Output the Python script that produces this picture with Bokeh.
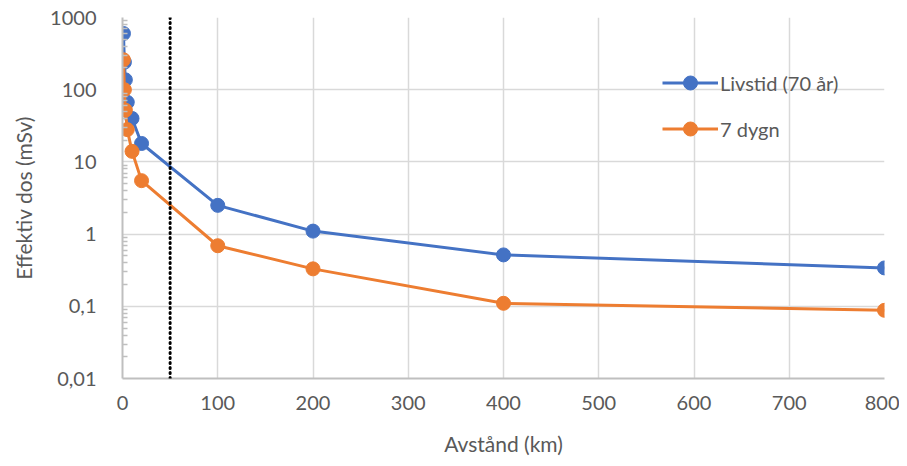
from bokeh.plotting import figure
from bokeh.models import FixedTicker, Span, Legend, LegendItem, ColumnDataSource
from bokeh.embed import file_html
from bokeh.resources import INLINE

distance_km = [1, 2, 3, 5, 10, 20, 100, 200, 400, 800]
dose_lifetime = [600, 240, 137, 67, 40, 18, 2.5, 1.1, 0.515, 0.34]
dose_7days = [260, 100, 52, 28, 14, 5.5, 0.69, 0.33, 0.11, 0.088]
series_names = ["Livstid (70 år)", "7 dygn"]
series_colors = ["#4472C4", "#ED7D31"]
y_ticks = [0.01, 0.1, 1, 10, 100, 1000]
y_tick_labels = ["0,01", "0,1", "1", "10", "100", "1000"]
x_ticks = [0, 100, 200, 300, 400, 500, 600, 700, 800]
marker_km = 50

FONT = "Lato"
TXT = "#595959"

p = figure(width=899, height=458, output_backend="svg", toolbar_location=None,
           y_axis_type="log", x_range=(0, 800), y_range=(0.01, 1000),
           min_border_left=122, min_border_right=15, min_border_top=17, min_border_bottom=78)
p.outline_line_color = None
p.background_fill_color = "white"

minor = []
for d in [0.01, 0.1, 1, 10, 100]:
    for k in range(2, 10):
        minor.append(d * k)
p.yaxis.ticker = FixedTicker(ticks=y_ticks, minor_ticks=minor)
p.yaxis.major_label_overrides = {t: l for t, l in zip(y_ticks, y_tick_labels)}
p.xaxis.ticker = FixedTicker(ticks=x_ticks)

for ax in (p.xaxis, p.yaxis):
    ax.axis_line_color = "#BFBFBF"
    ax.axis_line_width = 2
    ax.major_tick_line_color = None
    ax.major_label_text_color = TXT
    ax.major_label_text_font = FONT
    ax.major_label_text_font_size = "20px"
    ax.axis_label_text_color = TXT
    ax.axis_label_text_font = FONT
    ax.axis_label_text_font_size = "21px"
    ax.axis_label_text_font_style = "normal"
p.yaxis.minor_tick_in = 5
p.yaxis.minor_tick_out = 0
p.yaxis.minor_tick_line_color = "#BFBFBF"
p.yaxis.minor_tick_line_width = 1.5
p.xaxis.minor_tick_line_color = None
p.xaxis.major_label_standoff = 11
p.yaxis.major_label_standoff = 20
p.xaxis.axis_label = "Avstånd (km)"
p.yaxis.axis_label = "Effektiv dos (mSv)"
p.xaxis.axis_label_standoff = 18
p.yaxis.axis_label_standoff = 11

p.xgrid.grid_line_color = "#D9D9D9"
p.ygrid.grid_line_color = "#D9D9D9"
p.xgrid.grid_line_width = 1.5
p.ygrid.grid_line_width = 1.5

p.add_layout(Span(location=marker_km, dimension="height", line_color="black",
                  line_width=3, line_dash="1 4", line_cap="round"))

items = []
for name, vals, col in zip(series_names, [dose_lifetime, dose_7days], series_colors):
    src = ColumnDataSource(dict(x=distance_km, y=vals))
    r1 = p.line("x", "y", source=src, line_color=col, line_width=3)
    r2 = p.scatter("x", "y", source=src, size=14, fill_color=col, line_color=col)
    items.append(LegendItem(label=name, renderers=[r1, r2]))

legend = Legend(items=items, location=(540, 232), background_fill_alpha=0,
                border_line_color=None, label_text_font=FONT,
                label_text_font_size="20px", label_text_color=TXT,
                glyph_width=56, glyph_height=35, spacing=11, label_standoff=2,
                padding=0, margin=0)
p.add_layout(legend)

open("out.html", "w").write(file_html(p, INLINE))
